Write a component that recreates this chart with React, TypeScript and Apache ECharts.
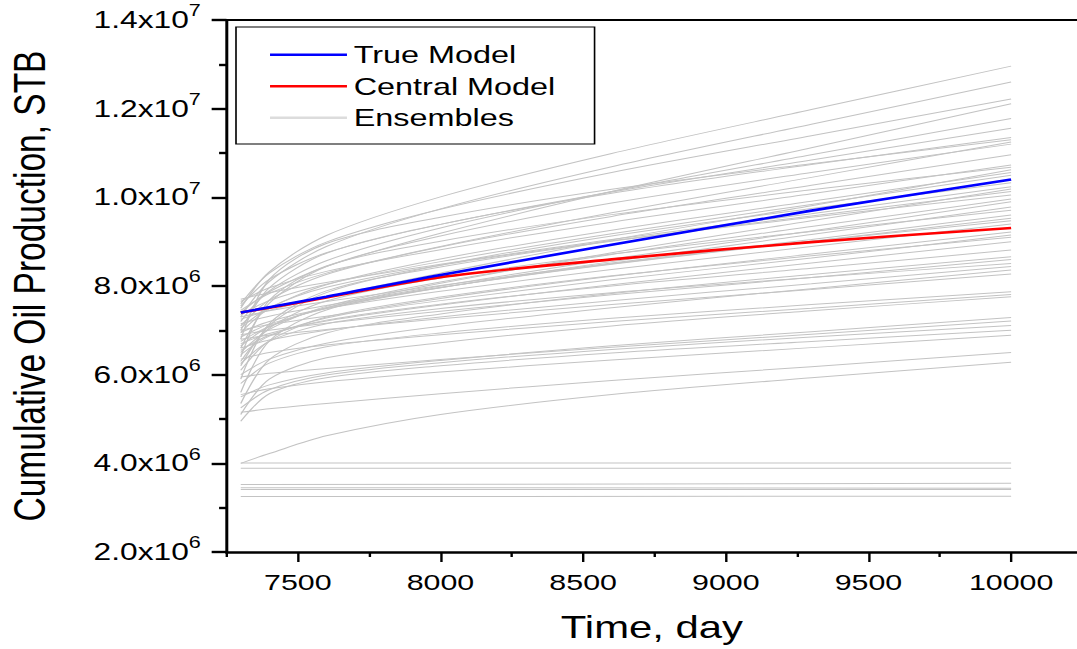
import React, { useEffect, useRef } from 'react';
import * as echarts from 'echarts';

// horizontal stretch of the reference picture
const S = 1.35;
const W = 1077;
const H = 649;
const FONT = "'Liberation Sans', Arial, Helvetica, sans-serif";

const xMajorTicks = [7500, 8000, 8500, 9000, 9500, 10000];
const xMinorTicks = [7250, 7750, 8250, 8750, 9250, 9750];

const curveDays = [7300, 7400, 7600, 8000, 8600, 9300, 10000];
// values in millions of STB
const trueModel = [7.40, 7.52, 7.76, 8.25, 8.93, 9.70, 10.40];
const centralModel = [7.40, 7.51, 7.74, 8.20, 8.60, 8.99, 9.31];

const ensembleCurves: number[][] = [
  [7.50, 8.32, 9.14, 10.01, 10.99, 11.98, 12.96],
  [7.30, 8.10, 8.89, 9.74, 10.69, 11.65, 12.60],
  [7.60, 8.29, 8.99, 9.73, 10.56, 11.39, 12.22],
  [7.40, 7.87, 8.44, 9.19, 10.13, 11.12, 12.11],
  [7.20, 7.89, 8.57, 9.31, 10.13, 10.96, 11.78],
  [7.55, 8.15, 8.75, 9.39, 10.12, 10.84, 11.56],
  [7.00, 7.96, 8.74, 9.39, 10.09, 10.74, 11.35],
  [6.80, 8.15, 8.96, 9.55, 10.18, 10.76, 11.30],
  [7.45, 7.83, 8.29, 8.89, 9.65, 10.45, 11.25],
  [6.60, 7.61, 8.44, 9.13, 9.87, 10.56, 11.20],
  [7.10, 7.68, 8.26, 8.88, 9.57, 10.27, 10.96],
  [7.65, 7.96, 8.33, 8.82, 9.44, 10.08, 10.73],
  [6.40, 7.68, 8.45, 9.01, 9.61, 10.17, 10.68],
  [7.25, 7.45, 7.76, 8.29, 9.04, 9.81, 10.62],
  [6.95, 7.49, 8.03, 8.61, 9.26, 9.91, 10.56],
  [7.35, 7.67, 8.04, 8.55, 9.18, 9.84, 10.50],
  [6.20, 7.11, 7.85, 8.47, 9.13, 9.75, 10.33],
  [7.70, 7.85, 8.08, 8.49, 9.05, 9.63, 10.24],
  [6.75, 7.09, 7.51, 8.06, 8.75, 9.47, 10.19],
  [7.05, 7.51, 7.97, 8.47, 9.02, 9.58, 10.13],
  [5.90, 7.15, 7.89, 8.43, 9.01, 9.55, 10.05],
  [6.50, 7.02, 7.54, 8.09, 8.71, 9.34, 9.96],
  [7.15, 7.32, 7.56, 8.00, 8.61, 9.24, 9.90],
  [6.85, 7.14, 7.49, 7.96, 8.55, 9.16, 9.78],
  [6.30, 7.05, 7.66, 8.18, 8.72, 9.23, 9.71],
  [7.30, 7.44, 7.65, 8.01, 8.52, 9.05, 9.60],
  [6.65, 7.08, 7.51, 7.97, 8.49, 9.01, 9.53],
  [5.60, 6.76, 7.46, 7.96, 8.50, 9.01, 9.47],
  [6.95, 7.20, 7.49, 7.88, 8.37, 8.89, 9.40],
  [6.45, 6.87, 7.28, 7.72, 8.22, 8.72, 9.22],
  [7.00, 7.13, 7.32, 7.67, 8.14, 8.63, 9.15],
  [6.10, 6.76, 7.30, 7.75, 8.23, 8.68, 9.10],
  [6.70, 6.93, 7.21, 7.57, 8.03, 8.52, 9.00],
  [6.55, 6.89, 7.23, 7.59, 8.00, 8.40, 8.81],
  [5.35, 6.34, 6.94, 7.37, 7.83, 8.26, 8.66],
  [6.90, 7.00, 7.16, 7.43, 7.80, 8.19, 8.60],
  [6.25, 6.75, 7.15, 7.49, 7.85, 8.19, 8.51],
  [6.60, 6.78, 7.00, 7.30, 7.67, 8.05, 8.44],
  [6.00, 6.35, 6.71, 7.09, 7.51, 7.94, 8.36],
  [6.80, 6.89, 7.02, 7.26, 7.58, 7.92, 8.27],
  [5.80, 6.26, 6.63, 6.94, 7.27, 7.58, 7.87],
  [6.35, 6.50, 6.67, 6.90, 7.20, 7.50, 7.81],
  [5.10, 5.90, 6.38, 6.72, 7.10, 7.44, 7.76],
  [5.50, 5.77, 6.04, 6.32, 6.65, 6.97, 7.29],
  [5.95, 6.03, 6.14, 6.34, 6.62, 6.91, 7.21],
  [5.25, 5.66, 5.99, 6.27, 6.57, 6.85, 7.11],
  [4.95, 5.57, 5.93, 6.20, 6.49, 6.75, 7.00],
  [5.55, 5.68, 5.84, 6.06, 6.33, 6.61, 6.89],
  [5.15, 5.23, 5.35, 5.57, 5.87, 6.18, 6.50],
  [4.00, 4.22, 4.62, 5.10, 5.55, 5.93, 6.28],
];

const flatDays = [7300, 10000];
const flatCurves: number[][] = [
  [4.01, 4.01],
  [3.89, 3.89],
  [3.52, 3.55],
  [3.45, 3.44],
  [3.41, 3.41],
  [3.25, 3.26],
];

const X_MIN = 7250;
const X_MAX = 10232;

export default function App() {
  const ref = useRef<HTMLDivElement>(null);

  useEffect(() => {
    const chart = echarts.init(ref.current!, null, { renderer: 'svg' });
    const toPts = (days: number[], vals: number[]) => days.map((d, i) => [d, vals[i] * 1e6]);

    const series: any[] = [];
    ensembleCurves.forEach((c) => {
      series.push({
        name: 'Ensembles', type: 'line', data: toPts(curveDays, c),
        symbol: 'none', showSymbol: false, smooth: 0.3,
        lineStyle: { color: '#c3c3c3', width: 1 }, itemStyle: { color: '#c3c3c3' },
        silent: true, z: 2,
      });
    });
    flatCurves.forEach((c) => {
      series.push({
        name: 'Ensembles', type: 'line', data: toPts(flatDays, c),
        symbol: 'none', showSymbol: false,
        lineStyle: { color: '#c3c3c3', width: 1 }, itemStyle: { color: '#c3c3c3' },
        silent: true, z: 2,
      });
    });
    series.push({
      name: 'Central Model', type: 'line', data: toPts(curveDays, centralModel),
      symbol: 'none', showSymbol: false, smooth: 0.3,
      lineStyle: { color: '#ff0000', width: 2.6 }, itemStyle: { color: '#ff0000' }, z: 3,
    });
    series.push({
      name: 'True Model', type: 'line', data: toPts(curveDays, trueModel),
      symbol: 'none', showSymbol: false, smooth: 0.3,
      lineStyle: { color: '#0000ff', width: 2.6 }, itemStyle: { color: '#0000ff' }, z: 4,
    });

    chart.setOption({
      animation: false,
      backgroundColor: '#ffffff',
      textStyle: { fontFamily: FONT, color: '#000' },
      grid: { left: 226.5 / S, right: 0, top: 20, bottom: 97, containLabel: false, outerBoundsMode: 'none' },
      legend: {
        show: true, orient: 'vertical', left: 236 / S, top: 27,
        padding: [15.7, 29, 14.3, 25.2],
        itemWidth: 57, itemHeight: 2.6, itemGap: 7.5, icon: 'rect',
        borderColor: '#000', borderWidth: 1.2, backgroundColor: '#fff',
        selectedMode: false,
        textStyle: { fontSize: 24, color: '#000', fontFamily: FONT, lineHeight: 24 },
        data: [
          { name: 'True Model' },
          { name: 'Central Model' },
          { name: 'Ensembles', itemStyle: { color: '#dcdcdc' } },
        ],
      },
      xAxis: [
        {
          type: 'value', min: X_MIN, max: X_MAX, position: 'bottom',
          axisLine: { show: true, onZero: false, lineStyle: { color: '#000', width: 2.7 } },
          axisTick: { show: true, customValues: xMajorTicks, length: 10, lineStyle: { color: '#000', width: 2.4 / S } },
          axisLabel: {
            show: true, customValues: xMajorTicks, fontSize: 22.5, color: '#000', fontFamily: FONT, margin: 18.5,
            formatter: (v: number) => String(v),
          },
          splitLine: { show: false },
          name: 'Time, day', nameLocation: 'middle', nameGap: 59.5,
          nameTextStyle: { fontSize: 31, color: '#000', fontFamily: FONT },
        },
        {
          type: 'value', min: X_MIN, max: X_MAX, position: 'bottom',
          axisLine: { show: false },
          axisTick: { show: true, customValues: xMinorTicks, length: 5, lineStyle: { color: '#000', width: 2.4 / S } },
          axisLabel: { show: false },
          splitLine: { show: false },
        },
        {
          type: 'value', min: X_MIN, max: X_MAX, position: 'top',
          axisLine: { show: true, onZero: false, lineStyle: { color: '#000', width: 2 } },
          axisTick: { show: false }, axisLabel: { show: false }, splitLine: { show: false },
        },
      ],
      yAxis: {
        type: 'value', min: 2e6, max: 1.4e7, interval: 2e6,
        axisLine: { show: true, onZero: false, lineStyle: { color: '#000', width: 3 / S } },
        axisTick: { show: true, length: 11, lineStyle: { color: '#000', width: 2.4 } },
        minorTick: { show: true, splitNumber: 2, length: 5.5, lineStyle: { color: '#000', width: 2.4 } },
        splitLine: { show: false }, minorSplitLine: { show: false },
        axisLabel: {
          margin: 19,
          formatter: (v: number) => {
            const e = Math.floor(Math.log10(v) + 1e-9);
            const m = (v / Math.pow(10, e)).toFixed(1);
            return `{m|${m}x10}{e|${e}}`;
          },
          rich: {
            m: { fontSize: 23.5, color: '#000', fontFamily: FONT, lineHeight: 34, verticalAlign: 'middle' },
            e: { fontSize: 16, color: '#000', fontFamily: FONT, lineHeight: 16, verticalAlign: 'top' },
          },
        },
        name: 'Cumulative Oil Production, STB', nameLocation: 'middle', nameGap: 129,
        nameTextStyle: { fontSize: 33.5, color: '#000', fontFamily: FONT },
      },
      series,
    });
    return () => chart.dispose();
  }, []);

  return (
    <div style={{ position: 'fixed', left: 0, top: 0, width: W, height: H, overflow: 'hidden', background: '#fff' }}>
      <div
        ref={ref}
        style={{ width: W / S, height: H, transform: `scaleX(${S})`, transformOrigin: '0 0' }}
      />
    </div>
  );
}
